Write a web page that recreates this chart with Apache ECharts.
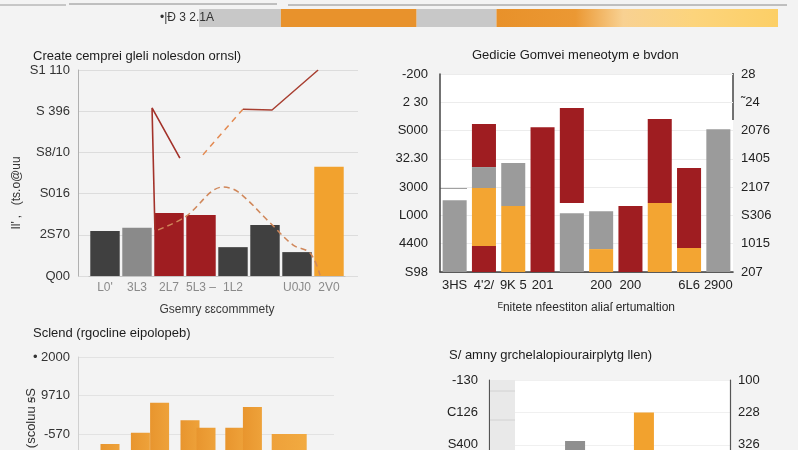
<!DOCTYPE html>
<html><head><meta charset="utf-8">
<script src="https://cdn.jsdelivr.net/npm/echarts/dist/echarts.min.js"></script>
<style>
html,body{margin:0;padding:0;overflow:hidden;background:#f3f3f3;width:798px;height:450px}
#c{width:798px;height:560px}
</style></head><body><div id="c"></div>
<script>
// ---- banner ----
const bannerLabel = '•|Ð 3 2.1A';
const bannerSegments = [82, 136, 80, 282];

// ---- top-left chart ----
const tlTitle = 'Create cemprei gleli nolesdon ornsl)';
const tlXName = 'Gsemry ɛɛcommmety';
const tlYName = "Il' ‚   (ts.o@uu";
const tlCategories = ["L0'", '3L3', '2L7', '5L3 ‒', '1L2', '', 'U0J0', '2V0'];
const tlDark   = [1.09, '-', '-', '-', 0.70, 1.24, 0.58, '-'];
const tlGray   = ['-', 1.17, '-', '-', '-', '-', '-', '-'];
const tlRed    = ['-', '-', 1.53, 1.48, '-', '-', '-', '-'];
const tlOrange = ['-', '-', '-', '-', '-', '-', '-', 2.65];
const tlYTicks = ['Q00', '2S70', 'S016', 'S8/10', 'S 396', 'S1 110'];
const tlLineDrop  = [[2.84, 2.86], [1.97, 4.08], [2.06, 1.12]];
const tlDashRise  = [[3.56, 2.94], [4.81, 4.05]];
const tlLineRise  = [[4.81, 4.05], [5.72, 4.03], [7.16, 5.0]];
const tlDashCurve = [[2.16, 1.12], [3.0, 1.43], [4.19, 2.16], [4.66, 2.04], [5.66, 1.29], [6.38, 0.75], [6.91, 0.56], [7.22, 0.02]];

// ---- top-right chart ----
const trTitle = 'Gedicie Gomvei meneotym e bvdon';
const trXName = 'ᴱnitete nfeestiton aliaſ ertumaltion';
const trCategories = ['3HS', "4'2/", '9K 5', '201', '', '200', '200', '', '6L6', '2900'];
const trRedLow  = [0, 0.92, 0, 5.12, 0, 0, 2.33, 0, 0, 0];
const trOrange  = [0, 2.05, 2.33, 0, 0, 0.81, 0, 2.44, 0.85, 0];
const trGray    = [2.54, 0.74, 1.52, 0, 2.08, 1.34, 0, 0, 0, 5.05];
const trGap     = [0, 0, 0, 0, 0.36, 0, 0, 0, 0, 0];
const trRedHigh = [0, 1.52, 0, 0, 3.36, 0, 0, 2.97, 2.83, 0];
const trLeftTicks  = ['S98', '4400', 'L000', '3000', '32.30', 'S000', '2 30', '-200'];
const trRightTicks = ['207', '1015', 'S306', '2107', '1405', '2076', '˜24', '28'];

// ---- bottom-left chart ----
const blTitle = 'Sclend (rgocline eipolopeb)';
const blYName = '(scoluu ꞩS';
const blBars = [[2.0, 1.74], [3.9, 2.03], [5.1, 2.81], [7.0, 2.36], [8.0, 2.16], [9.8, 2.16], [10.9, 2.70]];
const blWide = [[13.2, 2.0]];
const blTicks = ['', '', '-570', '9710', '• 2000'];

// ---- bottom-right chart ----
const brTitle = 'S/ amny grchelalopiourairplytg llen)';
const brCategories = ['', '', '', '', '', '', ''];
const brGray   = ['-', '-', 3.12, '-', '-', '-', '-'];
const brOrange = ['-', '-', '-', '-', 4.0, '-', '-'];
const brLeftTicks  = ['', '', '', 'S400', 'C126', '-130'];
const brRightTicks = ['', '', '', '326', '228', '100'];

const FONT = 'Liberation Sans, Arial, sans-serif';
const C = { dark: '#404040', mid: '#8a8a8a', red: '#9f1d21', orange: '#f2a22e', gray: '#9b9b9b', bannerGray: '#c8c8c8' };

const chart = echarts.init(document.getElementById('c'), null, { renderer: 'canvas' });

const titleStyle = { fontSize: 13, fontWeight: 'normal', color: '#1c1c1c', fontFamily: FONT };
const labelStyle = (color, size) => ({ color, fontSize: size, fontFamily: FONT });

const option = {
  backgroundColor: '#f3f3f3',
  animation: false,
  title: [
    { text: tlTitle, left: 33, top: 50, padding: 0, textStyle: titleStyle },
    { text: trTitle, left: 472, top: 49, padding: 0, textStyle: titleStyle },
    { text: blTitle, left: 33, top: 327, padding: 0, textStyle: titleStyle },
    { text: brTitle, left: 449, top: 349, padding: 0, textStyle: titleStyle }
  ],
  grid: [
    { left: 199, top: 9, width: 579, height: 18 },
    { left: 78, top: 70, width: 280, height: 206 },
    { left: 89, top: 70, width: 256, height: 206 },
    { left: 440, top: 74, width: 293, height: 198, show: true, backgroundColor: '#ffffff', borderWidth: 0 },
    { left: 78, top: 357, width: 256, height: 154 },
    { left: 489, top: 380, width: 241, height: 162, show: true, backgroundColor: '#ffffff', borderWidth: 0 }
  ],
  xAxis: [
    { gridIndex: 0, type: 'value', min: 0, max: 580, show: false },
    { gridIndex: 1, type: 'value', min: 0, max: 1, show: false },
    { gridIndex: 2, type: 'category', data: tlCategories,
      axisLine: { lineStyle: { color: '#c4c4c4' } }, axisTick: { show: false },
      axisLabel: Object.assign(labelStyle('#8a8a8a', 12), { margin: 6, interval: 0 }),
      name: tlXName, nameLocation: 'middle', nameGap: 28,
      nameTextStyle: labelStyle('#3a3a3a', 12) },
    { gridIndex: 2, type: 'value', min: 0, max: 8, show: false },
    { gridIndex: 3, type: 'category', data: trCategories,
      axisLine: { lineStyle: { color: '#9a9a9a' } }, axisTick: { show: false },
      axisLabel: Object.assign(labelStyle('#222', 13), { margin: 7, interval: 0 }),
      name: trXName, nameLocation: 'middle', nameGap: 30,
      nameTextStyle: labelStyle('#2a2a2a', 12) },
    { gridIndex: 3, type: 'category', position: 'top', data: trCategories,
      axisLine: { show: true, lineStyle: { color: '#444', width: 1.5 } },
      axisTick: { show: false }, axisLabel: { show: false } },
    { gridIndex: 4, type: 'value', min: 0, max: 16, show: false },
    { gridIndex: 5, type: 'category', data: brCategories, show: false },
    { gridIndex: 4, type: 'value', min: 0, max: 16, show: false }
  ],
  yAxis: [
    { gridIndex: 0, type: 'category', data: [bannerLabel], show: false },
    { gridIndex: 1, type: 'value', min: 0, max: 5, interval: 1,
      axisLine: { show: true, lineStyle: { color: '#b0b0b0' } }, axisTick: { show: false },
      splitLine: { lineStyle: { color: '#dcdcdc' } },
      axisLabel: Object.assign(labelStyle('#333', 13), { margin: 8, formatter: v => tlYTicks[v] }) },
    { gridIndex: 2, type: 'value', min: 0, max: 5, show: false },
    { gridIndex: 3, type: 'value', min: 0, max: 7, interval: 1, position: 'left',
      axisLine: { show: true, lineStyle: { color: '#444', width: 1.5 } }, axisTick: { show: false },
      splitLine: { lineStyle: { color: '#ececec' } },
      axisLabel: Object.assign(labelStyle('#222', 13), { margin: 12, formatter: v => trLeftTicks[v] }) },
    { gridIndex: 3, type: 'value', min: 0, max: 7, interval: 1, position: 'right',
      axisLine: { show: false }, axisTick: { show: false }, splitLine: { show: false },
      axisLabel: Object.assign(labelStyle('#222', 13), { margin: 8, formatter: v => trRightTicks[v] }) },
    { gridIndex: 4, type: 'value', min: 0, max: 4, interval: 1,
      axisLine: { show: true, lineStyle: { color: '#d0d0d0' } }, axisTick: { show: false },
      splitLine: { lineStyle: { color: '#e2e2e2' } },
      axisLabel: Object.assign(labelStyle('#333', 13), { margin: 8, formatter: v => blTicks[v] }) },
    { gridIndex: 5, type: 'value', min: 0, max: 5, interval: 1, position: 'left',
      axisLine: { show: true, lineStyle: { color: '#555', width: 1.2 } }, axisTick: { show: false },
      splitLine: { lineStyle: { color: '#f0f0f0' } },
      axisLabel: Object.assign(labelStyle('#222', 13), { margin: 11, formatter: v => brLeftTicks[v] }) },
    { gridIndex: 5, type: 'value', min: 0, max: 5, interval: 1, position: 'right',
      axisLine: { show: true, lineStyle: { color: '#555', width: 1.2 } }, axisTick: { show: false },
      splitLine: { show: false },
      axisLabel: Object.assign(labelStyle('#222', 13), { margin: 8, formatter: v => brRightTicks[v] }) }
  ],
  series: [
    // banner
    { type: 'bar', xAxisIndex: 0, yAxisIndex: 0, stack: 'banner', barWidth: 18, data: [bannerSegments[0]], itemStyle: { color: C.bannerGray } },
    { type: 'bar', xAxisIndex: 0, yAxisIndex: 0, stack: 'banner', barWidth: 18, data: [bannerSegments[1]], itemStyle: { color: '#e8922c' } },
    { type: 'bar', xAxisIndex: 0, yAxisIndex: 0, stack: 'banner', barWidth: 18, data: [bannerSegments[2]], itemStyle: { color: C.bannerGray } },
    { type: 'bar', xAxisIndex: 0, yAxisIndex: 0, stack: 'banner', barWidth: 18, data: [bannerSegments[3]],
      itemStyle: { color: new echarts.graphic.LinearGradient(0, 0, 1, 0, [
        { offset: 0, color: '#e8912a' }, { offset: 0.28, color: '#eb9833' },
        { offset: 0.45, color: '#f8d192' }, { offset: 0.7, color: '#fcd47c' }, { offset: 1, color: '#fccf66' }]) } },

    // top-left bars
    { type: 'bar', xAxisIndex: 2, yAxisIndex: 2, barWidth: '92%', barGap: '-100%', data: tlDark, itemStyle: { color: C.dark } },
    { type: 'bar', xAxisIndex: 2, yAxisIndex: 2, barWidth: '92%', barGap: '-100%', data: tlGray, itemStyle: { color: C.mid } },
    { type: 'bar', xAxisIndex: 2, yAxisIndex: 2, barWidth: '92%', barGap: '-100%', data: tlRed, itemStyle: { color: C.red } },
    { type: 'bar', xAxisIndex: 2, yAxisIndex: 2, barWidth: '92%', barGap: '-100%', data: tlOrange, itemStyle: { color: C.orange } },
    // top-left lines
    { type: 'line', xAxisIndex: 3, yAxisIndex: 2, data: tlLineDrop, symbol: 'none', z: 5,
      lineStyle: { color: '#a3322a', width: 1.6 } },
    { type: 'line', xAxisIndex: 3, yAxisIndex: 2, data: tlDashRise, symbol: 'none', z: 5,
      lineStyle: { color: '#e38a52', width: 1.5, type: [6, 5] } },
    { type: 'line', xAxisIndex: 3, yAxisIndex: 2, data: tlLineRise, symbol: 'none', z: 5,
      lineStyle: { color: '#a83f31', width: 1.5 } },
    { type: 'line', xAxisIndex: 3, yAxisIndex: 2, data: tlDashCurve, symbol: 'none', smooth: 0.35, z: 5,
      lineStyle: { color: '#d0875a', width: 1.5, type: [6, 4] } },

    // top-right stacked columns
    { type: 'bar', xAxisIndex: 4, yAxisIndex: 3, stack: 'tr', barWidth: '82%', data: trRedLow, itemStyle: { color: C.red } },
    { type: 'bar', xAxisIndex: 4, yAxisIndex: 3, stack: 'tr', barWidth: '82%', data: trOrange, itemStyle: { color: '#f3a532' } },
    { type: 'bar', xAxisIndex: 4, yAxisIndex: 3, stack: 'tr', barWidth: '82%', data: trGray, itemStyle: { color: C.gray } },
    { type: 'bar', xAxisIndex: 4, yAxisIndex: 3, stack: 'tr', barWidth: '82%', data: trGap, itemStyle: { color: 'rgba(0,0,0,0)' } },
    { type: 'bar', xAxisIndex: 4, yAxisIndex: 3, stack: 'tr', barWidth: '82%', data: trRedHigh, itemStyle: { color: C.red } },

    // bottom-left bars
    { type: 'bar', xAxisIndex: 6, yAxisIndex: 5, barWidth: 19, data: blBars,
      itemStyle: { color: new echarts.graphic.LinearGradient(0, 0, 1, 0, [{ offset: 0, color: '#e8952e' }, { offset: 1, color: '#eea23a' }]) } },
    { type: 'bar', xAxisIndex: 8, yAxisIndex: 5, barWidth: 35, data: blWide,
      itemStyle: { color: new echarts.graphic.LinearGradient(0, 0, 1, 0, [{ offset: 0, color: '#eea13a' }, { offset: 1, color: '#f2aa40' }]) } },

    // bottom-right bars
    { type: 'bar', xAxisIndex: 7, yAxisIndex: 6, barWidth: 20, barGap: '-100%', data: brGray, itemStyle: { color: '#8f8f8f' }, z: 3 },
    { type: 'bar', xAxisIndex: 7, yAxisIndex: 6, barWidth: 20, barGap: '-100%', data: brOrange, itemStyle: { color: C.orange }, z: 3 }
  ],
  graphic: [
    { type: 'line', shape: { x1: 0, y1: 5, x2: 66, y2: 5 }, style: { stroke: '#9a9a9a', lineWidth: 1 } },
    { type: 'line', shape: { x1: 69, y1: 4, x2: 277, y2: 4 }, style: { stroke: '#8a8a8a', lineWidth: 1 } },
    { type: 'line', shape: { x1: 288, y1: 5, x2: 787, y2: 5 }, style: { stroke: '#8a8a8a', lineWidth: 1 } },
    { type: 'text', x: 160, y: 18, z: 10,
      style: { text: bannerLabel, fill: '#333', font: '12px ' + FONT, textAlign: 'left', textVerticalAlign: 'middle', align: 'left', verticalAlign: 'middle' } },
    { type: 'text', x: 17, y: 193, rotation: Math.PI / 2,
      style: { text: tlYName, fill: '#333', font: '12px ' + FONT, textAlign: 'center', textVerticalAlign: 'middle', align: 'center', verticalAlign: 'middle' } },
    { type: 'text', x: 31, y: 388, rotation: Math.PI / 2,
      style: { text: blYName, fill: '#333', font: '13px ' + FONT, textAlign: 'right', textVerticalAlign: 'middle', align: 'right', verticalAlign: 'middle' } },
    { type: 'line', shape: { x1: 733, y1: 73, x2: 733, y2: 120 }, style: { stroke: '#444', lineWidth: 1.5 } },
    { type: 'line', shape: { x1: 440, y1: 188, x2: 467, y2: 188 }, style: { stroke: '#444', lineWidth: 1 } },
    { type: 'rect', z: 1, shape: { x: 490, y: 380, width: 25, height: 180 }, style: { fill: '#e9e9e9' } },
    { type: 'line', z: 1, shape: { x1: 490, y1: 391, x2: 515, y2: 391 }, style: { stroke: '#d2d2d2', lineWidth: 1 } },
    { type: 'line', z: 1, shape: { x1: 490, y1: 420, x2: 515, y2: 420 }, style: { stroke: '#d2d2d2', lineWidth: 1 } }
  ]
};
chart.setOption(option);
</script></body></html>
